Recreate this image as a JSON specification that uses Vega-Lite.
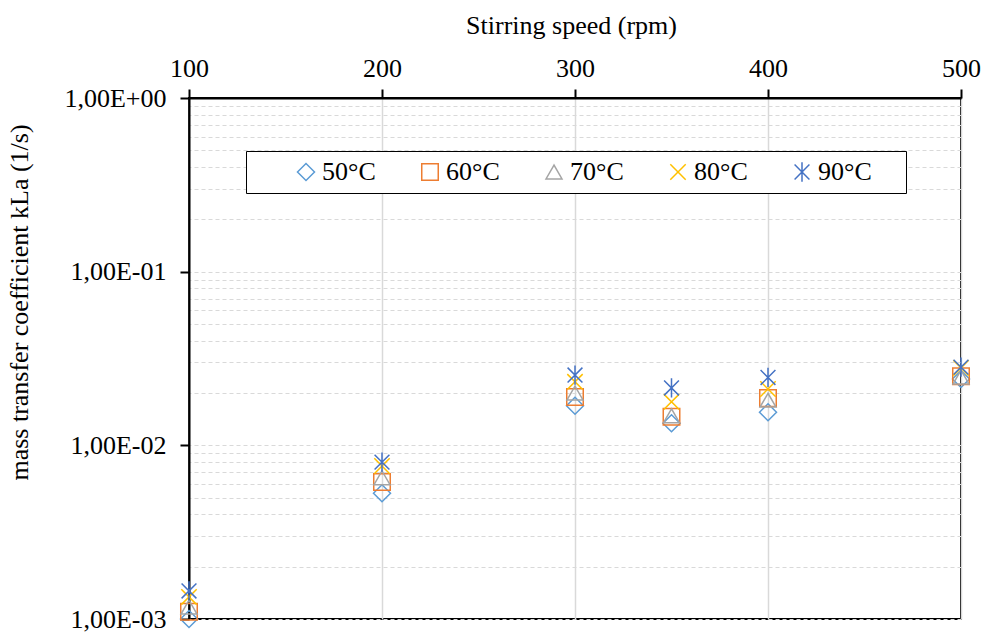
{
  "$schema": "https://vega.github.io/schema/vega-lite/v6.json",
  "width": 772,
  "height": 521,
  "autosize": {"type": "none"},
  "padding": {"left": 189, "top": 98, "right": 23, "bottom": 14},
  "background": "white",
  "config": {
    "view": {"stroke": "black", "strokeWidth": 2},
    "font": "Liberation Serif"
  },
  "data": {
    "values": [
      {"speed": 100, "series": "50°C", "kla": 0.00100},
      {"speed": 100, "series": "60°C", "kla": 0.00110},
      {"speed": 100, "series": "70°C", "kla": 0.00117},
      {"speed": 100, "series": "80°C", "kla": 0.00134},
      {"speed": 100, "series": "90°C", "kla": 0.00145},
      {"speed": 200, "series": "50°C", "kla": 0.0053},
      {"speed": 200, "series": "60°C", "kla": 0.00615},
      {"speed": 200, "series": "70°C", "kla": 0.0065},
      {"speed": 200, "series": "80°C", "kla": 0.0076},
      {"speed": 200, "series": "90°C", "kla": 0.0080},
      {"speed": 300, "series": "50°C", "kla": 0.0169},
      {"speed": 300, "series": "60°C", "kla": 0.0190},
      {"speed": 300, "series": "70°C", "kla": 0.0200},
      {"speed": 300, "series": "80°C", "kla": 0.0232},
      {"speed": 300, "series": "90°C", "kla": 0.0254},
      {"speed": 350, "series": "50°C", "kla": 0.0134},
      {"speed": 350, "series": "60°C", "kla": 0.0146},
      {"speed": 350, "series": "70°C", "kla": 0.0148},
      {"speed": 350, "series": "80°C", "kla": 0.0178},
      {"speed": 350, "series": "90°C", "kla": 0.0214},
      {"speed": 400, "series": "50°C", "kla": 0.0155},
      {"speed": 400, "series": "60°C", "kla": 0.0187},
      {"speed": 400, "series": "70°C", "kla": 0.0182},
      {"speed": 400, "series": "80°C", "kla": 0.0211},
      {"speed": 400, "series": "90°C", "kla": 0.0246},
      {"speed": 500, "series": "50°C", "kla": 0.0241},
      {"speed": 500, "series": "60°C", "kla": 0.0250},
      {"speed": 500, "series": "70°C", "kla": 0.0247},
      {"speed": 500, "series": "80°C", "kla": 0.0279},
      {"speed": 500, "series": "90°C", "kla": 0.0282}
    ]
  },
  "resolve": {"axis": {"y": "independent"}},
  "layer": [
    {
      "mark": {"type": "point", "opacity": 0},
      "encoding": {
        "x": {"field": "speed", "type": "quantitative"},
        "y": {
          "field": "kla",
          "type": "quantitative",
          "axis": {
            "orient": "right",
            "title": null,
            "values": [0.001, 0.002, 0.003, 0.004, 0.005, 0.006, 0.007, 0.008, 0.009, 0.01, 0.02, 0.03, 0.04, 0.05, 0.06, 0.07, 0.08, 0.09, 0.1, 0.2, 0.3, 0.4, 0.5, 0.6, 0.7, 0.8, 0.9, 1],
            "grid": true,
            "gridColor": "#d9d9d9",
            "gridDash": [4, 3],
            "gridWidth": 1.2,
            "labels": false,
            "ticks": false,
            "domain": false
          }
        }
      }
    },
    {
      "mark": {"type": "point", "filled": false, "strokeWidth": 1.5, "opacity": 1},
      "encoding": {
        "x": {
          "field": "speed",
          "type": "quantitative",
          "scale": {"domain": [100, 500], "nice": false, "zero": false},
          "axis": {
            "orient": "top",
            "title": "Stirring speed (rpm)",
            "titleX": 382,
            "values": [100, 200, 300, 400, 500],
            "grid": true,
            "gridColor": "#d9d9d9",
            "gridWidth": 1.5,
            "domainColor": "black",
            "domainWidth": 2,
            "tickColor": "black",
            "tickWidth": 2,
            "tickSize": 9,
            "labelFlush": false,
            "labelFont": "Liberation Serif",
            "labelFontSize": 26,
            "labelColor": "black",
            "labelPadding": 8,
            "titleFont": "Liberation Serif",
            "titleFontSize": 26,
            "titleFontWeight": "normal",
            "titleColor": "black",
            "titlePadding": 17
          }
        },
        "y": {
          "field": "kla",
          "type": "quantitative",
          "scale": {"type": "log", "domain": [0.001, 1], "nice": false},
          "axis": {
            "orient": "left",
            "title": "mass transfer coefficient kLa (1/s)",
            "titleY": 204,
            "titleAlign": "center",
            "values": [0.001, 0.01, 0.1, 1],
            "labelExpr": "datum.value >= 1 ? '1,00E+00' : '1,00E-0' + format(-round(log(datum.value)/LN10), 'd')",
            "grid": false,
            "domainColor": "black",
            "domainWidth": 2,
            "tickColor": "black",
            "tickWidth": 2,
            "tickSize": 9,
            "labelFlush": false,
            "labelFont": "Liberation Serif",
            "labelFontSize": 26,
            "labelColor": "black",
            "labelPadding": 14,
            "labelOverlap": false,
            "labelBound": false,
            "titleFont": "Liberation Serif",
            "titleFontSize": 26,
            "titleFontWeight": "normal",
            "titleColor": "black",
            "titlePadding": 31
          }
        },
        "color": {
          "field": "series",
          "type": "nominal",
          "scale": {
            "domain": ["50°C", "60°C", "70°C", "80°C", "90°C"],
            "range": ["#5B9BD5", "#ED7D31", "#A5A5A5", "#FFC000", "#4472C4"]
          },
          "legend": {
            "orient": "none",
            "legendX": 57,
            "legendY": 53,
            "direction": "horizontal",
            "title": " ",
            "titleOrient": "left",
            "titleFontSize": 1,
            "titlePadding": 39,
            "strokeColor": "black",
            "fillColor": "white",
            "padding": 8,
            "columnPadding": 41,
            "labelOffset": 3,
            "labelFont": "Liberation Serif",
            "labelFontSize": 26,
            "labelColor": "black",
            "labelExpr": "datum.value == '90°C' ? datum.label + '\u2003\u200b' : datum.label",
            "symbolSize": 170,
            "symbolStrokeWidth": 1.5
          }
        },
        "shape": {
          "field": "series",
          "type": "nominal",
          "scale": {
            "domain": ["50°C", "60°C", "70°C", "80°C", "90°C"],
            "range": ["diamond", "square", "triangle-up", "M-1,-1L1,1M-1,1L1,-1", "M-1,-1L1,1M-1,1L1,-1M0,-1.3L0,1.3"]
          }
        },
        "size": {
          "field": "series",
          "type": "nominal",
          "scale": {
            "domain": ["50°C", "60°C", "70°C", "80°C", "90°C"],
            "range": [290, 220, 220, 220, 220]
          },
          "legend": null
        }
      }
    }
  ]
}
